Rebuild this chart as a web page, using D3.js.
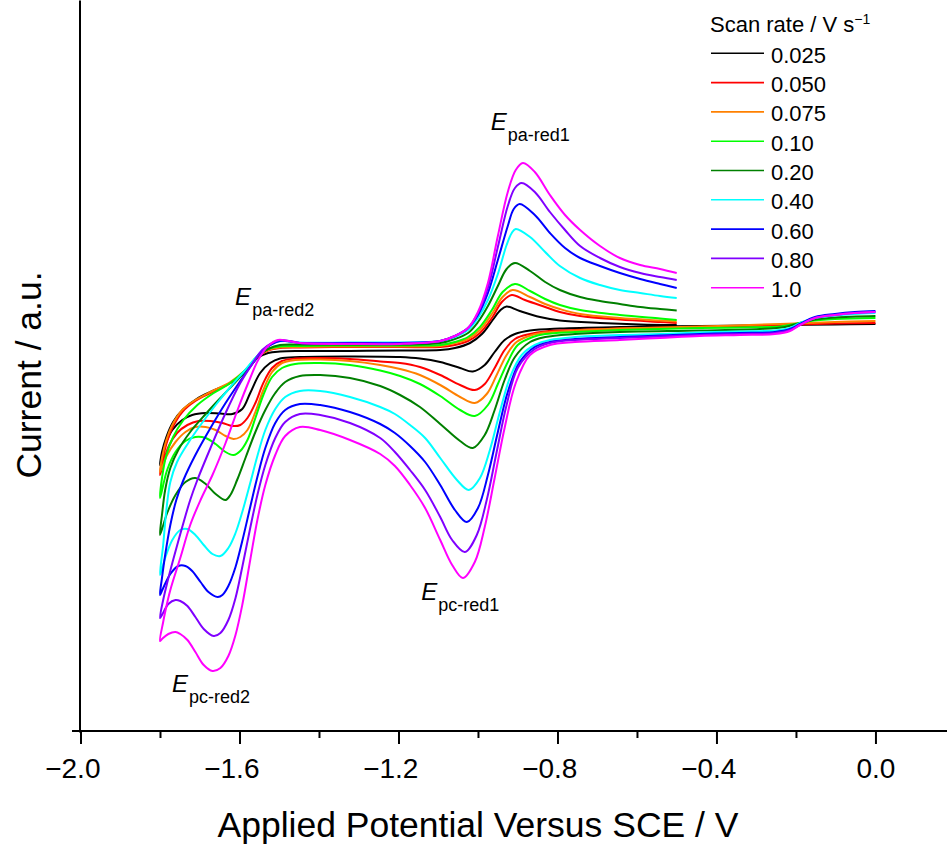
<!DOCTYPE html>
<html>
<head>
<meta charset="utf-8">
<script src="https://cdn.jsdelivr.net/npm/d3@7"></script>
<style>
  body { margin: 0; background: #fff; }
  svg { display: block; font-family: "Liberation Sans", Arial, sans-serif; }
</style>
</head>
<body>
<svg id="chart" width="947" height="845"></svg>
<script>
// Scan rates (V s^-1) and their trace colours
const scanRates = ["0.025", "0.050", "0.075", "0.10", "0.20", "0.40", "0.60", "0.80", "1.0"];
const seriesColors = ["#000000", "#ff0000", "#ff8000", "#00ff00", "#008000", "#00ffff", "#0000ff", "#8000ff", "#ff00ff"];

// Potential axis ticks (V vs SCE)
const xTicks = [-2.0, -1.6, -1.2, -0.8, -0.4, 0.0];
const xMinorTicks = [-1.8, -1.4, -1.0, -0.6, -0.2];

// Cyclic voltammograms: [potential / V, current / a.u.]
// forward sweep 0 V -> -1.8 V, then reverse sweep -1.8 V -> -0.5 V
const cv_0025 = [
  [0.000,0.6],[-0.102,0.55],[-0.240,0.5],[-0.442,0.4],[-0.643,0.3],[-0.794,0.15],[-0.869,-0.05],[-0.907,-0.4],[-0.933,-1.0],[-0.958,-2.2],[-0.983,-3.5],[-1.013,-4.15],[-1.045,-3.8],[-1.095,-3.2],[-1.146,-2.85],[-1.196,-2.7],[-1.322,-2.65],[-1.448,-2.7],[-1.498,-2.85],[-1.523,-3.3],[-1.548,-4.3],[-1.573,-6.3],[-1.593,-7.9],[-1.618,-8.4],[-1.648,-8.35],[-1.685,-8.3],[-1.719,-8.5],[-1.744,-9.0],[-1.769,-10.0],[-1.787,-11.5],[-1.800,-13.5],
  [-1.795,-12.2],[-1.784,-10.7],[-1.767,-9.2],[-1.741,-7.9],[-1.708,-6.9],[-1.668,-6.1],[-1.623,-5.3],[-1.585,-4.2],[-1.555,-2.8],[-1.528,-2.3],[-1.498,-2.15],[-1.448,-2.1],[-1.322,-2.1],[-1.196,-2.05],[-1.095,-2.0],[-1.058,-1.8],[-1.020,-1.3],[-0.990,-0.4],[-0.963,1.0],[-0.943,2.0],[-0.928,2.35],[-0.895,1.9],[-0.844,1.3],[-0.794,0.95],[-0.693,0.7],[-0.592,0.55],[-0.500,0.5]
];
const cv_0050 = [
  [0.000,0.7],[-0.102,0.65],[-0.240,0.5],[-0.442,0.3],[-0.643,0.15],[-0.756,0.0],[-0.831,-0.15],[-0.869,-0.4],[-0.907,-0.9],[-0.933,-2.0],[-0.958,-3.8],[-0.983,-5.4],[-1.008,-6.0],[-1.045,-5.5],[-1.095,-4.5],[-1.146,-3.7],[-1.196,-3.3],[-1.246,-3.15],[-1.322,-2.9],[-1.397,-2.8],[-1.460,-2.85],[-1.493,-3.1],[-1.518,-3.8],[-1.540,-5.3],[-1.560,-7.3],[-1.580,-8.8],[-1.598,-9.5],[-1.618,-9.6],[-1.643,-9.3],[-1.673,-9.1],[-1.703,-9.1],[-1.731,-9.5],[-1.757,-10.3],[-1.779,-11.7],[-1.800,-14.5],
  [-1.795,-13.2],[-1.784,-11.4],[-1.769,-9.8],[-1.744,-8.2],[-1.711,-7.1],[-1.668,-6.2],[-1.623,-5.3],[-1.585,-4.1],[-1.555,-2.7],[-1.528,-2.05],[-1.498,-1.8],[-1.448,-1.75],[-1.322,-1.7],[-1.196,-1.7],[-1.095,-1.7],[-1.058,-1.5],[-1.025,-1.1],[-0.995,-0.3],[-0.965,1.2],[-0.940,2.8],[-0.915,3.5],[-0.882,3.0],[-0.831,2.3],[-0.794,1.8],[-0.743,1.4],[-0.643,1.05],[-0.542,0.8],[-0.500,0.7]
];
const cv_0075 = [
  [0.000,0.9],[-0.102,0.8],[-0.240,0.6],[-0.442,0.35],[-0.643,0.15],[-0.756,-0.05],[-0.831,-0.25],[-0.864,-0.5],[-0.903,-1.2],[-0.928,-2.5],[-0.953,-4.5],[-0.978,-6.4],[-1.008,-7.3],[-1.045,-6.7],[-1.095,-5.5],[-1.146,-4.5],[-1.196,-3.9],[-1.246,-3.5],[-1.322,-3.1],[-1.397,-2.95],[-1.460,-3.0],[-1.493,-3.3],[-1.518,-4.2],[-1.540,-6.0],[-1.560,-8.2],[-1.580,-10.0],[-1.598,-10.7],[-1.615,-10.9],[-1.635,-10.6],[-1.660,-10.0],[-1.685,-9.7],[-1.711,-9.7],[-1.736,-10.2],[-1.761,-11.2],[-1.782,-12.5],[-1.800,-14.2],
  [-1.795,-12.8],[-1.784,-11.0],[-1.769,-9.5],[-1.744,-8.0],[-1.711,-7.0],[-1.668,-6.1],[-1.623,-5.2],[-1.585,-4.0],[-1.555,-2.7],[-1.528,-2.0],[-1.498,-1.75],[-1.448,-1.7],[-1.322,-1.65],[-1.196,-1.65],[-1.095,-1.6],[-1.058,-1.3],[-1.025,-0.9],[-0.995,0.0],[-0.965,1.6],[-0.938,3.3],[-0.913,4.0],[-0.869,3.3],[-0.831,2.6],[-0.794,2.1],[-0.743,1.6],[-0.643,1.2],[-0.542,0.95],[-0.500,0.85]
];
const cv_010 = [
  [0.000,1.2],[-0.102,1.1],[-0.165,0.9],[-0.203,0.6],[-0.240,0.35],[-0.341,0.25],[-0.442,0.2],[-0.643,0.0],[-0.756,-0.2],[-0.831,-0.4],[-0.862,-0.7],[-0.900,-1.5],[-0.925,-3.2],[-0.950,-5.4],[-0.975,-7.5],[-1.008,-8.6],[-1.045,-8.0],[-1.095,-6.6],[-1.146,-5.4],[-1.196,-4.6],[-1.246,-4.05],[-1.322,-3.5],[-1.397,-3.3],[-1.460,-3.4],[-1.493,-3.8],[-1.518,-4.7],[-1.540,-6.5],[-1.560,-8.8],[-1.580,-11.0],[-1.598,-12.1],[-1.615,-12.5],[-1.635,-12.2],[-1.660,-11.4],[-1.685,-10.8],[-1.711,-10.7],[-1.736,-11.1],[-1.761,-12.2],[-1.782,-14.0],[-1.800,-16.8],
  [-1.795,-14.8],[-1.784,-12.5],[-1.767,-10.7],[-1.741,-9.0],[-1.706,-7.5],[-1.665,-6.3],[-1.623,-5.3],[-1.585,-4.0],[-1.555,-2.6],[-1.528,-1.9],[-1.498,-1.65],[-1.448,-1.6],[-1.322,-1.55],[-1.196,-1.55],[-1.095,-1.5],[-1.058,-1.2],[-1.025,-0.7],[-0.995,0.3],[-0.965,2.0],[-0.938,3.8],[-0.907,4.6],[-0.869,3.9],[-0.831,3.1],[-0.794,2.5],[-0.743,2.0],[-0.643,1.5],[-0.542,1.15],[-0.500,1.0]
];
const cv_020 = [
  [0.000,1.4],[-0.102,1.25],[-0.152,1.05],[-0.190,0.7],[-0.228,0.3],[-0.291,0.1],[-0.442,-0.05],[-0.643,-0.2],[-0.756,-0.4],[-0.831,-0.7],[-0.869,-1.2],[-0.907,-2.7],[-0.933,-5.0],[-0.958,-8.0],[-0.983,-10.5],[-1.013,-11.8],[-1.045,-11.1],[-1.095,-9.4],[-1.146,-7.7],[-1.196,-6.5],[-1.246,-5.6],[-1.322,-4.8],[-1.397,-4.5],[-1.448,-4.6],[-1.485,-5.2],[-1.510,-6.3],[-1.535,-8.0],[-1.560,-10.2],[-1.585,-12.8],[-1.606,-15.0],[-1.623,-16.5],[-1.635,-17.0],[-1.660,-16.4],[-1.685,-15.4],[-1.711,-14.8],[-1.736,-15.2],[-1.761,-16.5],[-1.782,-18.3],[-1.800,-20.5],
  [-1.795,-18.5],[-1.787,-16.0],[-1.774,-13.8],[-1.754,-12.0],[-1.724,-10.2],[-1.685,-8.4],[-1.648,-6.8],[-1.610,-5.2],[-1.578,-3.8],[-1.553,-2.6],[-1.528,-1.9],[-1.498,-1.5],[-1.448,-1.45],[-1.322,-1.45],[-1.196,-1.45],[-1.095,-1.3],[-1.058,-0.9],[-1.025,-0.3],[-1.000,0.8],[-0.975,2.4],[-0.950,4.4],[-0.928,6.1],[-0.907,6.7],[-0.869,5.9],[-0.831,4.8],[-0.794,4.0],[-0.743,3.3],[-0.693,2.9],[-0.643,2.6],[-0.592,2.3],[-0.542,2.1],[-0.500,1.95]
];
const cv_040 = [
  [0.000,1.7],[-0.052,1.6],[-0.102,1.45],[-0.152,1.2],[-0.190,0.7],[-0.215,0.2],[-0.253,-0.05],[-0.341,-0.15],[-0.442,-0.25],[-0.542,-0.4],[-0.643,-0.5],[-0.756,-0.7],[-0.819,-1.0],[-0.857,-1.5],[-0.890,-2.5],[-0.920,-4.8],[-0.945,-8.2],[-0.970,-12.0],[-0.995,-14.8],[-1.023,-16.0],[-1.053,-15.0],[-1.095,-12.8],[-1.133,-10.8],[-1.171,-9.5],[-1.209,-8.4],[-1.246,-7.7],[-1.322,-6.7],[-1.397,-6.1],[-1.448,-6.1],[-1.485,-6.7],[-1.510,-7.9],[-1.535,-10.0],[-1.555,-12.6],[-1.573,-15.3],[-1.593,-18.2],[-1.610,-20.3],[-1.628,-21.8],[-1.648,-22.6],[-1.668,-22.4],[-1.690,-21.5],[-1.711,-20.5],[-1.731,-19.9],[-1.749,-20.0],[-1.769,-21.0],[-1.787,-22.8],[-1.800,-24.5],
  [-1.792,-21.5],[-1.784,-18.0],[-1.774,-15.2],[-1.757,-13.2],[-1.729,-11.3],[-1.698,-9.5],[-1.660,-7.5],[-1.623,-5.7],[-1.590,-4.2],[-1.560,-2.8],[-1.535,-1.8],[-1.510,-1.2],[-1.485,-1.1],[-1.448,-1.25],[-1.322,-1.25],[-1.196,-1.25],[-1.095,-1.1],[-1.058,-0.7],[-1.025,0.0],[-1.000,1.2],[-0.975,3.0],[-0.950,5.6],[-0.928,8.5],[-0.915,9.7],[-0.905,10.1],[-0.869,9.3],[-0.831,7.8],[-0.794,6.4],[-0.743,5.2],[-0.693,4.5],[-0.643,4.0],[-0.592,3.7],[-0.542,3.4],[-0.500,3.2]
];
const cv_060 = [
  [0.000,1.9],[-0.052,1.8],[-0.102,1.6],[-0.152,1.3],[-0.190,0.6],[-0.215,0.1],[-0.253,-0.2],[-0.341,-0.3],[-0.442,-0.4],[-0.542,-0.55],[-0.643,-0.7],[-0.756,-0.9],[-0.819,-1.2],[-0.857,-1.7],[-0.895,-3.2],[-0.925,-6.2],[-0.950,-10.2],[-0.975,-14.5],[-1.000,-17.8],[-1.028,-19.2],[-1.058,-18.0],[-1.095,-15.5],[-1.133,-13.2],[-1.171,-11.6],[-1.209,-10.3],[-1.246,-9.4],[-1.322,-8.2],[-1.397,-7.5],[-1.448,-7.4],[-1.485,-8.0],[-1.510,-9.3],[-1.535,-11.8],[-1.555,-14.7],[-1.573,-17.7],[-1.593,-21.1],[-1.610,-23.7],[-1.628,-25.6],[-1.643,-26.5],[-1.655,-26.7],[-1.678,-26.2],[-1.698,-25.2],[-1.719,-24.1],[-1.736,-23.6],[-1.754,-23.6],[-1.774,-24.4],[-1.792,-25.8],[-1.800,-26.5],
  [-1.795,-24.8],[-1.787,-22.5],[-1.774,-19.5],[-1.759,-17.0],[-1.741,-15.0],[-1.711,-12.5],[-1.673,-9.8],[-1.635,-7.3],[-1.598,-5.1],[-1.568,-3.4],[-1.543,-2.1],[-1.518,-1.4],[-1.498,-1.1],[-1.473,-1.15],[-1.448,-1.3],[-1.322,-1.3],[-1.196,-1.3],[-1.095,-1.1],[-1.058,-0.6],[-1.025,0.2],[-1.000,1.5],[-0.975,3.7],[-0.950,7.0],[-0.925,10.4],[-0.910,12.1],[-0.895,12.6],[-0.857,11.5],[-0.819,9.7],[-0.781,8.2],[-0.743,7.2],[-0.693,6.4],[-0.643,5.7],[-0.592,5.1],[-0.542,4.6],[-0.500,4.2]
];
const cv_080 = [
  [0.000,1.8],[-0.052,1.7],[-0.102,1.5],[-0.152,1.2],[-0.190,0.5],[-0.215,0.0],[-0.253,-0.3],[-0.341,-0.4],[-0.442,-0.5],[-0.542,-0.65],[-0.643,-0.8],[-0.756,-1.0],[-0.819,-1.3],[-0.857,-1.9],[-0.900,-3.8],[-0.928,-7.5],[-0.953,-12.2],[-0.978,-17.0],[-1.003,-20.5],[-1.033,-22.2],[-1.065,-21.0],[-1.095,-18.7],[-1.133,-16.0],[-1.171,-14.0],[-1.209,-12.2],[-1.246,-10.8],[-1.322,-9.3],[-1.397,-8.5],[-1.448,-8.4],[-1.485,-9.2],[-1.510,-10.8],[-1.535,-13.5],[-1.555,-16.5],[-1.573,-19.8],[-1.593,-23.7],[-1.610,-26.8],[-1.628,-29.0],[-1.648,-30.3],[-1.665,-30.6],[-1.690,-29.9],[-1.711,-28.7],[-1.731,-27.6],[-1.749,-27.1],[-1.761,-27.0],[-1.779,-27.4],[-1.795,-28.5],[-1.800,-28.8],
  [-1.792,-27.0],[-1.782,-25.3],[-1.767,-23.0],[-1.744,-19.7],[-1.724,-17.0],[-1.706,-15.0],[-1.673,-11.8],[-1.635,-8.3],[-1.598,-5.3],[-1.568,-3.4],[-1.543,-2.0],[-1.518,-1.3],[-1.498,-1.0],[-1.473,-1.1],[-1.448,-1.3],[-1.322,-1.35],[-1.196,-1.35],[-1.095,-1.1],[-1.058,-0.6],[-1.025,0.2],[-1.000,1.7],[-0.975,4.2],[-0.950,8.3],[-0.925,12.4],[-0.907,14.2],[-0.890,14.7],[-0.857,13.8],[-0.819,11.8],[-0.781,10.0],[-0.743,8.4],[-0.693,7.2],[-0.643,6.3],[-0.592,5.7],[-0.542,5.3],[-0.500,5.0]
];
const cv_100 = [
  [0.000,1.8],[-0.052,1.7],[-0.102,1.5],[-0.152,1.2],[-0.190,0.5],[-0.215,-0.1],[-0.253,-0.4],[-0.341,-0.5],[-0.442,-0.6],[-0.542,-0.8],[-0.643,-1.0],[-0.756,-1.2],[-0.819,-1.5],[-0.869,-2.5],[-0.905,-5.3],[-0.933,-9.8],[-0.958,-14.8],[-0.983,-19.7],[-1.008,-23.2],[-1.038,-24.8],[-1.065,-23.5],[-1.095,-21.0],[-1.133,-17.8],[-1.171,-15.5],[-1.209,-13.6],[-1.246,-12.4],[-1.322,-11.0],[-1.397,-10.0],[-1.448,-9.7],[-1.485,-10.6],[-1.510,-12.5],[-1.535,-15.5],[-1.555,-19.0],[-1.573,-23.0],[-1.593,-27.5],[-1.610,-30.5],[-1.628,-32.6],[-1.648,-33.8],[-1.668,-34.1],[-1.690,-33.5],[-1.711,-32.2],[-1.731,-31.0],[-1.749,-30.4],[-1.761,-30.2],[-1.779,-30.4],[-1.795,-30.9],[-1.800,-31.1],
  [-1.792,-29.2],[-1.787,-28.2],[-1.774,-26.0],[-1.749,-22.8],[-1.724,-19.5],[-1.698,-17.0],[-1.668,-14.5],[-1.635,-11.3],[-1.603,-7.8],[-1.573,-4.8],[-1.553,-3.0],[-1.528,-1.6],[-1.503,-1.0],[-1.478,-1.1],[-1.448,-1.3],[-1.322,-1.4],[-1.196,-1.4],[-1.095,-1.1],[-1.058,-0.6],[-1.025,0.2],[-1.000,1.8],[-0.975,4.7],[-0.950,9.4],[-0.925,13.8],[-0.905,16.0],[-0.887,16.7],[-0.857,15.8],[-0.819,13.5],[-0.781,11.5],[-0.743,10.0],[-0.693,8.4],[-0.643,7.2],[-0.592,6.5],[-0.542,6.1],[-0.500,5.7]
];
const traces = [cv_0025, cv_0050, cv_0075, cv_010, cv_020, cv_040, cv_060, cv_080, cv_100];

// Peak annotations: E with subscript, anchored in data coordinates
const peakLabels = [
  { sub: "pa-red1", E: -0.968, I: 20.0 },
  { sub: "pa-red2", E: -1.611, I: 2.5 },
  { sub: "pc-red1", E: -1.143, I: -27.0 },
  { sub: "pc-red2", E: -1.770, I: -36.2 }
];

const svg = d3.select("#chart");

const x = d3.scaleLinear().domain([-2.0, 0.18]).range([80.5, 947]);
const y = d3.scaleLinear().domain([-40.2, 33]).range([732, 0]);
const axisY = 731;
const tickFont = 28;

// traces
const line = d3.line()
  .x(d => x(d[0]))
  .y(d => y(d[1]))
  .curve(d3.curveCatmullRom.alpha(0.5));

svg.append("g").selectAll("path")
  .data(traces)
  .join("path")
  .attr("d", line)
  .attr("fill", "none")
  .attr("stroke", (d, i) => seriesColors[i])
  .attr("stroke-width", 2)
  .attr("stroke-linejoin", "round");

// y axis: plain line, no ticks
const yAxis = svg.append("g")
  .attr("transform", "translate(79.5,0)")
  .call(d3.axisLeft(y).tickValues([]).tickSizeOuter(0));
yAxis.select(".domain").attr("stroke", "#000").attr("stroke-width", 2);

// x axis; the digits are centred on the tick and a minus sign hangs to the left
const fmt = d3.format(".1f");
const xAxis = svg.append("g")
  .attr("transform", `translate(0,${axisY})`)
  .call(d3.axisBottom(x).tickValues(xTicks).tickSize(13).tickPadding(14).tickFormat(fmt));
xAxis.select(".domain").remove();
xAxis.selectAll(".tick line").attr("stroke", "#000").attr("stroke-width", 2);
xAxis.selectAll(".tick text")
  .attr("fill", "#000")
  .attr("text-anchor", "end")
  .attr("x", tickFont * 1.39 / 2)
  .style("font-size", tickFont + "px")
  .style("font-family", "'Liberation Sans', Arial, sans-serif");

const xMinor = svg.append("g")
  .attr("transform", `translate(0,${axisY})`)
  .call(d3.axisBottom(x).tickValues(xMinorTicks).tickSize(7).tickFormat(""));
xMinor.select(".domain").remove();
xMinor.selectAll(".tick line").attr("stroke", "#000").attr("stroke-width", 2);

svg.append("line")
  .attr("x1", 72).attr("x2", 947)
  .attr("y1", axisY).attr("y2", axisY)
  .attr("stroke", "#000").attr("stroke-width", 2);

// axis titles
svg.append("text")
  .attr("x", 478).attr("y", 837)
  .attr("text-anchor", "middle")
  .style("font-size", "35.5px")
  .text("Applied Potential Versus SCE / V");

svg.append("text")
  .attr("transform", "translate(41,375) rotate(-90)")
  .attr("text-anchor", "middle")
  .style("font-size", "35.5px")
  .text("Current / a.u.");

// peak labels
const pl = svg.append("g").selectAll("text")
  .data(peakLabels)
  .join("text")
  .attr("x", d => x(d.E))
  .attr("y", d => y(d.I))
  .style("font-size", "24px");
pl.append("tspan").style("font-style", "italic").text("E");
pl.append("tspan").attr("dx", 1).attr("dy", 11).style("font-size", "18px").text(d => d.sub);

// legend
const legend = svg.append("g").attr("transform", "translate(711,0)");
const title = legend.append("text").attr("x", -1).attr("y", 31.5).style("font-size", "22px");
title.append("tspan").text("Scan rate / V s");
title.append("tspan").attr("dy", -8).style("font-size", "14px").text("\u22121");

const rows = legend.selectAll("g.row")
  .data(scanRates)
  .join("g")
  .attr("class", "row")
  .attr("transform", (d, i) => `translate(0,${53.3 + i * 29.3})`);
rows.append("line")
  .attr("x1", 0).attr("x2", 53)
  .attr("stroke", (d, i) => seriesColors[i])
  .attr("stroke-width", 1.6);
rows.append("text")
  .attr("x", 60).attr("y", 9.5)
  .style("font-size", "22px")
  .text(d => d);
</script>
</body>
</html>
